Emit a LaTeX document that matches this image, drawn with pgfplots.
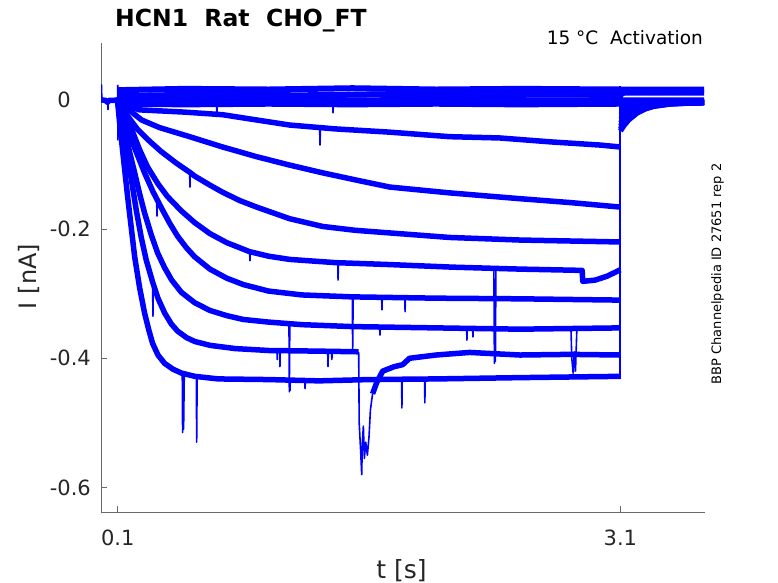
\documentclass[border=0pt]{standalone}
\usepackage{fontspec}
\setmainfont{DejaVu Sans}
\usepackage{pgfplots}
\pgfplotsset{compat=1.18}
\definecolor{tr}{RGB}{0,0,255}
\definecolor{axc}{RGB}{105,105,105}
\definecolor{txt}{RGB}{38,38,38}
\newcommand\fs[1]{\fontsize{#1bp}{#1bp}\selectfont}
\begin{document}
\begin{tikzpicture}
\useasboundingbox (-101bp,-71bp) rectangle (677bp,512bp);
\begin{axis}[
 at={(0,0)}, anchor=south west,
 scale only axis, width=604bp, height=469bp,
 xmin=0, xmax=3.605, ymin=-0.638, ymax=0.088,
 axis x line*=bottom, axis y line*=left,
 axis line style={-, draw=axc, line width=0.8bp},
 xtick={0.1,3.1}, xticklabels={0.1,3.1},
 ytick={-0.6,-0.4,-0.2,0}, yticklabels={-0.6,-0.4,-0.2,0\phantom{.2}},
 tick align=inside, major tick length=6bp,
 major tick style={draw=axc, line width=0.8bp},
 xticklabel style={font=\fs{21}, text=txt, anchor=base, inner sep=0pt, yshift=-33bp},
 yticklabel style={font=\fs{21}, text=txt, anchor=base east, inner sep=0pt, xshift=-10bp, yshift=-7.6bp},
 cycle list={{tr,solid,mark=none,line width=5.5bp,line join=round}},
 no markers,
 tk/.style={tr,solid,line width=5.5bp,line join=round},
 nz/.style={tr,solid,line width=6bp,line join=round},
 thin/.style={tr,solid,line width=1.6bp,line join=round},
]
% pre-pulse baseline
\addplot[tk] coordinates {(0,0.001)(0.002,0.0)(0.03,-0.001)(0.038,-0.004)(0.045,-0.001)(0.07,-0.001)(0.1,0.0)};
\addplot[thin] coordinates {(0.002,0.0)(0.003,0.023)(0.005,0.0)};
\addplot[thin] coordinates {(0.04,-0.001)(0.042,-0.015)(0.044,-0.002)};
\addplot[thin] coordinates {(0.1,0.023)(0.101,-0.062)(0.103,-0.01)};
% near-zero sweeps
\addplot[nz] coordinates {(0.1,0.015)(0.5,0.017)(1.0,0.016)(1.5,0.018)(2.0,0.016)(2.5,0.017)(3.1,0.016)(3.12,0.016)(3.6,0.016)};
\addplot[nz] coordinates {(0.1,0.006)(0.6,0.008)(1.2,0.007)(1.8,0.009)(2.4,0.008)(3.1,0.008)(3.12,0.011)(3.6,0.011)};
\addplot[nz] coordinates {(0.1,-0.001)(0.7,0.0)(1.4,-0.001)(2.1,0.0)(2.8,-0.001)(3.1,0.0)(3.12,-0.001)(3.6,-0.001)};
\addplot[nz] coordinates {(0.1,-0.006)(0.5,-0.007)(1.0,-0.006)(1.5,-0.007)(2.0,-0.006)(2.5,-0.007)(3.1,-0.006)(3.12,-0.004)(3.6,-0.004)};
\addplot[thin] coordinates {(0.69,-0.006)(0.692,-0.024)(0.694,-0.006)};
\addplot[thin] coordinates {(1.383,-0.006)(1.385,-0.02)(1.387,-0.006)};
% T1
\addplot[tk] coordinates {(0.1,-0.002)(0.15,-0.009)(0.23,-0.0155)(0.5,-0.019)(0.726,-0.023)(0.9,-0.030)(1.126,-0.039)(1.4,-0.045)(1.723,-0.050)(2.08,-0.057)(2.38,-0.059)(2.68,-0.065)(2.98,-0.070)(3.1,-0.073)};
\addplot[thin] coordinates {(1.305,-0.041)(1.307,-0.070)(1.31,-0.042)};
\addplot[tk] coordinates {(3.1,-0.010)(3.12,-0.0089)(3.15,-0.0076)(3.2,-0.0062)(3.25,-0.0053)(3.3,-0.0048)(3.4,-0.0043)(3.6,-0.004)};
% T2
\addplot[tk] coordinates {(0.1,-0.002)(0.15,-0.012)(0.241,-0.031)(0.35,-0.043)(0.529,-0.057)(0.726,-0.073)(0.929,-0.088)(1.126,-0.101)(1.323,-0.113)(1.52,-0.124)(1.723,-0.135)(2.08,-0.144)(2.5,-0.153)(2.8,-0.159)(3.1,-0.166)};
\addplot[tk] coordinates {(3.1,-0.017)(3.12,-0.0146)(3.15,-0.0119)(3.2,-0.0088)(3.25,-0.0069)(3.3,-0.0058)(3.4,-0.0047)(3.6,-0.004)};
% T3
\addplot[tk] coordinates {(0.100,-0.003)(0.150,-0.022)(0.219,-0.046)(0.290,-0.064)(0.359,-0.080)(0.45,-0.098)(0.529,-0.112)(0.559,-0.118)(0.65,-0.132)(0.726,-0.143)(0.829,-0.156)(0.929,-0.166)(1.126,-0.184)(1.323,-0.196)(1.52,-0.202)(1.723,-0.206)(2.08,-0.213)(2.5,-0.217)(3.1,-0.220)};
\addplot[thin] coordinates {(0.529,-0.112)(0.531,-0.135)(0.533,-0.113)};
\addplot[tk] coordinates {(3.1,-0.024)(3.12,-0.0204)(3.15,-0.0161)(3.2,-0.0114)(3.25,-0.0085)(3.3,-0.0067)(3.4,-0.005)(3.6,-0.004)};
% T4
\addplot[tk] coordinates {(0.100,-0.003)(0.140,-0.020)(0.183,-0.046)(0.230,-0.077)(0.278,-0.104)(0.340,-0.130)(0.398,-0.150)(0.480,-0.172)(0.559,-0.190)(0.65,-0.207)(0.75,-0.221)(0.887,-0.235)(1.0,-0.242)(1.126,-0.247)(1.4,-0.252)(1.723,-0.255)(2.1,-0.259)(2.5,-0.262)(2.872,-0.264)(2.875,-0.281)(2.95,-0.279)(3.02,-0.273)(3.06,-0.268)(3.1,-0.263)};
\addplot[thin] coordinates {(0.887,-0.235)(0.889,-0.249)(0.891,-0.236)};
\addplot[thin] coordinates {(1.413,-0.252)(1.415,-0.279)(1.417,-0.252)};
\addplot[thin] coordinates {(2.345,-0.261)(2.348,-0.408)(2.351,-0.30)(2.354,-0.405)(2.357,-0.262)};
\addplot[tk] coordinates {(3.1,-0.030)(3.12,-0.0253)(3.15,-0.0198)(3.2,-0.0136)(3.25,-0.0098)(3.3,-0.0075)(3.4,-0.0053)(3.6,-0.004)};
% T5
\addplot[tk] coordinates {(0.100,-0.004)(0.125,-0.022)(0.159,-0.046)(0.200,-0.074)(0.260,-0.113)(0.310,-0.142)(0.362,-0.168)(0.410,-0.191)(0.457,-0.211)(0.510,-0.229)(0.559,-0.243)(0.65,-0.262)(0.75,-0.276)(0.85,-0.286)(1.0,-0.296)(1.2,-0.302)(1.5,-0.305)(2.0,-0.307)(2.5,-0.308)(3.1,-0.310)};
\addplot[thin] coordinates {(0.332,-0.153)(0.334,-0.180)(0.336,-0.154)};
\addplot[thin] coordinates {(1.500,-0.305)(1.502,-0.390)(1.505,-0.305)};
\addplot[thin] coordinates {(1.675,-0.306)(1.677,-0.325)(1.679,-0.306)};
\addplot[thin] coordinates {(1.813,-0.306)(1.815,-0.328)(1.817,-0.306)};
\addplot[tk] coordinates {(3.1,-0.036)(3.12,-0.0302)(3.15,-0.0234)(3.2,-0.0158)(3.25,-0.0111)(3.3,-0.0083)(3.4,-0.0056)(3.6,-0.004)};
% T6
\addplot[tk] coordinates {(0.100,-0.004)(0.120,-0.020)(0.141,-0.046)(0.170,-0.080)(0.201,-0.113)(0.230,-0.145)(0.260,-0.175)(0.300,-0.209)(0.338,-0.237)(0.380,-0.260)(0.422,-0.279)(0.480,-0.298)(0.559,-0.314)(0.65,-0.326)(0.75,-0.334)(0.85,-0.340)(1.0,-0.344)(1.2,-0.348)(1.5,-0.351)(2.0,-0.353)(2.5,-0.355)(3.1,-0.353)};
\addplot[thin] coordinates {(1.122,-0.347)(1.124,-0.452)(1.127,-0.347)};
\addplot[thin] coordinates {(1.663,-0.351)(1.665,-0.364)(1.667,-0.351)};
\addplot[thin] coordinates {(2.182,-0.353)(2.184,-0.372)(2.186,-0.353)};
\addplot[thin] coordinates {(2.218,-0.353)(2.220,-0.367)(2.222,-0.353)};
\addplot[thin] coordinates {(2.805,-0.355)(2.81,-0.40)(2.818,-0.423)(2.825,-0.39)(2.832,-0.42)(2.84,-0.356)};
\addplot[tk] coordinates {(3.1,-0.041)(3.12,-0.0343)(3.15,-0.0265)(3.2,-0.0176)(3.25,-0.0123)(3.3,-0.009)(3.4,-0.0059)(3.6,-0.004)};
% T7
\addplot[tk] coordinates {(0.100,-0.004)(0.123,-0.040)(0.150,-0.078)(0.183,-0.126)(0.210,-0.170)(0.241,-0.214)(0.270,-0.248)(0.308,-0.282)(0.340,-0.307)(0.380,-0.330)(0.420,-0.347)(0.457,-0.358)(0.510,-0.368)(0.559,-0.374)(0.65,-0.380)(0.8,-0.385)(1.0,-0.388)(1.3,-0.389)(1.538,-0.390)};
\addplot[thin] coordinates {(1.538,-0.390)(1.541,-0.50)(1.550,-0.545)(1.556,-0.58)(1.560,-0.53)(1.566,-0.505)(1.572,-0.555)(1.580,-0.53)(1.590,-0.55)(1.600,-0.52)(1.608,-0.48)(1.621,-0.455)};
\addplot[tk] coordinates {(1.621,-0.455)(1.645,-0.438)(1.681,-0.420)(1.75,-0.413)(1.80,-0.410)(1.842,-0.400)(2.0,-0.395)(2.2,-0.391)(2.5,-0.395)(2.8,-0.394)(3.1,-0.395)};
\addplot[thin] coordinates {(0.308,-0.282)(0.310,-0.335)(0.312,-0.283)};
\addplot[thin] coordinates {(1.05,-0.388)(1.052,-0.402)(1.054,-0.388)};
\addplot[thin] coordinates {(1.066,-0.388)(1.068,-0.413)(1.070,-0.388)};
\addplot[thin] coordinates {(1.353,-0.389)(1.355,-0.413)(1.357,-0.389)};
\addplot[thin] coordinates {(1.376,-0.389)(1.378,-0.402)(1.380,-0.389)};
\addplot[tk] coordinates {(3.1,-0.045)(3.12,-0.0376)(3.15,-0.0289)(3.2,-0.0191)(3.25,-0.0131)(3.3,-0.0095)(3.4,-0.006)(3.6,-0.004)};
% T8
\addplot[tk] coordinates {(0.100,-0.005)(0.111,-0.035)(0.135,-0.093)(0.159,-0.150)(0.201,-0.243)(0.230,-0.290)(0.260,-0.330)(0.285,-0.356)(0.308,-0.377)(0.340,-0.395)(0.380,-0.408)(0.430,-0.417)(0.481,-0.423)(0.56,-0.428)(0.7,-0.432)(1.0,-0.433)(1.3,-0.435)(1.6,-0.433)(2.0,-0.432)(2.5,-0.430)(3.1,-0.428)};
\addplot[thin] coordinates {(0.485,-0.424)(0.487,-0.515)(0.490,-0.465)(0.493,-0.510)(0.497,-0.426)};
\addplot[thin] coordinates {(0.569,-0.429)(0.571,-0.530)(0.574,-0.430)};
\addplot[thin] coordinates {(1.126,-0.433)(1.128,-0.45)(1.130,-0.433)};
\addplot[thin] coordinates {(1.216,-0.434)(1.218,-0.447)(1.220,-0.434)};
\addplot[thin] coordinates {(1.794,-0.432)(1.796,-0.477)(1.798,-0.432)};
\addplot[thin] coordinates {(1.931,-0.432)(1.933,-0.469)(1.935,-0.432)};
\addplot[tk] coordinates {(3.1,-0.048)(3.12,-0.040)(3.15,-0.0307)(3.2,-0.0202)(3.25,-0.0138)(3.3,-0.0099)(3.4,-0.0062)(3.6,-0.004)};
% step back at 3.1
\addplot[tk,line width=2bp] coordinates {(3.1,-0.432)(3.1,0.022)};
\end{axis}
\node[anchor=base west, inner sep=0pt, font=\fs{23.5}\bfseries, text=black] at (14bp,485bp) {HCN1\ \ Rat\ \ CHO\_FT};
\node[anchor=base east, inner sep=0pt, font=\fs{18.5}, text=black] at (602bp,467bp) {15 °C\ \ Activation};
\node[rotate=90, anchor=base, inner sep=0pt, font=\fs{13}, text=black] at (620bp,238bp) {BBP Channelpedia ID 27651 rep 2};
\node[rotate=90, anchor=base, inner sep=0pt, font=\fs{24}, text=txt] at (-64.3bp,235.5bp) {I [nA]};
\node[anchor=base, inner sep=0pt, font=\fs{25}, text=txt] at (300.5bp,-66bp) {t [s]};
\end{tikzpicture}
\end{document}
